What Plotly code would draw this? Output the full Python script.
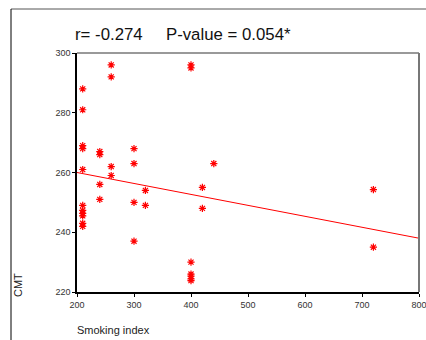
import plotly.graph_objects as go

smoking_index = [210]*11 + [240]*4 + [260]*4 + [300]*4 + [320]*2 + [400]*7 + [420]*2 + [440] + [720]*2
cmt = [288, 281, 269, 268, 261, 249, 247.3, 246.3, 245.5, 243, 242,
       267, 266, 256, 251,
       296, 292, 262, 259,
       268, 263, 250, 237,
       254, 249,
       296, 295, 230, 226, 225.3, 224.4, 223.8,
       255, 248,
       263,
       254.3, 235]

fit_x = [200, 800]
fit_y = [260, 238]

title_text = "r= -0.274     P-value = 0.054*"

fig = go.Figure()
fig.add_trace(go.Scatter(x=fit_x, y=fit_y, mode="lines",
                         line=dict(color="#ff0000", width=1), showlegend=False))
fig.add_trace(go.Scatter(x=smoking_index, y=cmt, mode="markers",
                         marker=dict(symbol="asterisk-open", size=6, color="#ff0000",
                                     line=dict(color="#ff0000", width=1.2)),
                         showlegend=False))

L, R, T, B = 77, 7, 53, 48
W, H = 426, 340
pw, ph = W - L - R, H - T - B

def px_x(p):
    return (p - L) / pw

def px_y(p):
    return 1 - (p - T) / ph

shapes = [
    dict(type="line", xref="paper", yref="paper", x0=0, x1=1, y0=1, y1=1,
         line=dict(color="#777777", width=1.5)),
    dict(type="line", xref="paper", yref="paper", x0=1, x1=1, y0=0, y1=1,
         line=dict(color="#777777", width=2)),
    dict(type="line", xref="paper", yref="paper", x0=px_x(11), x1=px_x(426), y0=px_y(9), y1=px_y(9),
         line=dict(color="#555555", width=1)),
    dict(type="line", xref="paper", yref="paper", x0=px_x(11), x1=px_x(11), y0=px_y(9), y1=px_y(340),
         line=dict(color="#000000", width=1)),
]

fig.update_layout(
    width=W, height=H,
    margin=dict(l=L, r=R, t=T, b=B, pad=0, autoexpand=False),
    paper_bgcolor="white", plot_bgcolor="white",
    font=dict(family="Liberation Sans, Arial, sans-serif", color="#222222"),
    shapes=shapes,
    annotations=[
        dict(text=title_text, xref="paper", yref="paper", x=px_x(73), y=px_y(35),
             xanchor="left", yanchor="middle", showarrow=False,
             font=dict(size=16.8, color="#111111")),
        dict(text="Smoking index", xref="paper", yref="paper", x=px_x(75), y=px_y(330),
             xanchor="left", yanchor="middle", showarrow=False,
             font=dict(size=11, color="#222222")),
        dict(text="CMT", xref="paper", yref="paper", x=px_x(18), y=px_y(285),
             xanchor="center", yanchor="middle", showarrow=False, textangle=-90,
             font=dict(size=11, color="#222222")),
    ],
    xaxis=dict(range=[200, 800], tickvals=[200, 300, 400, 500, 600, 700, 800],
               showgrid=False, zeroline=False, showline=True, linecolor="black", linewidth=1.5,
               ticks="outside", ticklen=3, tickcolor="black", ticklabeloverflow="allow",
               automargin=False, tickfont=dict(size=9, color="#333333")),
    yaxis=dict(range=[220, 300], tickvals=[220, 240, 260, 280, 300],
               showgrid=False, zeroline=False, showline=True, linecolor="black", linewidth=1.5,
               ticks="outside", ticklen=3, tickcolor="black", ticklabeloverflow="allow",
               automargin=False, tickfont=dict(size=9, color="#333333")),
)

fig.write_html("out.html", config={"displayModeBar": False},
               post_script="document.body.style.margin='0';document.body.style.overflow='hidden';")
